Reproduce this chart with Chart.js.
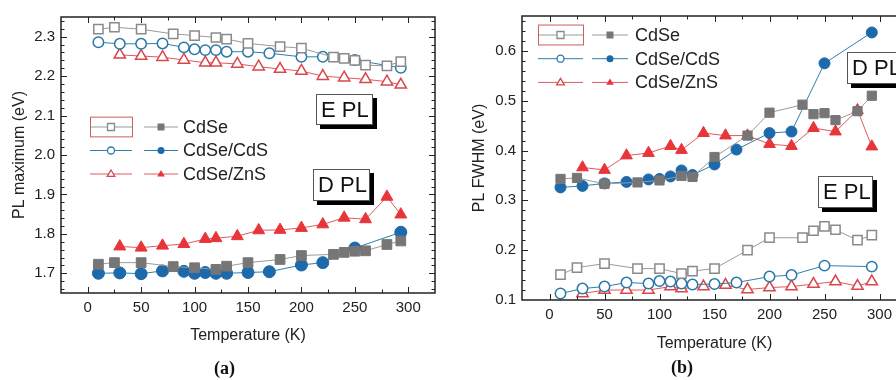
<!DOCTYPE html>
<html>
<head>
<meta charset="utf-8">
<script src="https://cdn.jsdelivr.net/npm/chart.js@4"></script>
<style>
html, body { margin: 0; padding: 0; background: #fff; overflow: hidden; }
#wrap { position: relative; width: 896px; height: 380px; overflow: hidden; }
canvas { position: absolute; top: 0; }
#chartA { left: 0; }
#chartB { left: 450px; }
.tag {
    position: absolute; background: #fff; border: 1px solid #555;
    box-shadow: 4px 4px 0 #000; box-sizing: border-box;
    font: 22px "Liberation Sans", Arial, sans-serif; color: #111;
    white-space: nowrap; padding-left: 4px;
}
.cap { position: absolute; font: bold 18px "Liberation Serif", serif; color: #111; }
</style>
</head>
<body>
<div id="wrap">
    <canvas id="chartA" width="450" height="380"></canvas>
    <canvas id="chartB" width="480" height="380"></canvas>

    <div class="tag" style="left:316px;top:94px;width:57px;height:31px;line-height:29px;">E PL</div>
    <div class="tag" style="left:313px;top:169px;width:57px;height:32px;line-height:30px;">D PL</div>
    <div class="tag" style="left:847px;top:52px;width:64px;height:32px;line-height:30px;">D PL</div>
    <div class="tag" style="left:818px;top:176px;width:55px;height:32px;line-height:30px;">E PL</div>

    <div class="cap" style="left:214px;top:358px;">(a)</div>
    <div class="cap" style="left:671px;top:357px;">(b)</div>
</div>

<script>
// ======================
// DATA
// ======================

const names = ["CdSe", "CdSe/CdS", "CdSe/ZnS"];

const tCdSe = [10, 25, 50, 80, 100, 120, 130, 150, 180, 200, 230, 240, 250, 260, 280, 293];
const tCdS  = [10, 30, 50, 70, 90, 100, 110, 120, 130, 150, 170, 200, 220, 250, 293];
const tZnS  = [30, 50, 70, 90, 110, 120, 140, 160, 180, 200, 220, 240, 260, 280, 293];

// (a) PL maximum, eV
const maxE_CdSe = [2.319, 2.324, 2.319, 2.307, 2.303, 2.298, 2.294, 2.283, 2.275, 2.271, 2.248, 2.245, 2.240, 2.228, 2.226, 2.237];
const maxE_CdS  = [2.286, 2.282, 2.282, 2.283, 2.273, 2.268, 2.266, 2.266, 2.262, 2.262, 2.258, 2.249, 2.249, 2.241, 2.221];
const maxE_ZnS  = [2.254, 2.251, 2.248, 2.241, 2.234, 2.234, 2.231, 2.224, 2.218, 2.213, 2.200, 2.196, 2.192, 2.186, 2.178];

const maxD_CdSe = [1.723, 1.727, 1.727, 1.717, 1.714, 1.710, 1.718, 1.727, 1.735, 1.745, 1.748, 1.753, 1.756, 1.757, 1.773, 1.782];
const maxD_CdS  = [1.700, 1.701, 1.699, 1.706, 1.705, 1.700, 1.702, 1.700, 1.700, 1.702, 1.704, 1.721, 1.727, 1.764, 1.804];
const maxD_ZnS  = [1.768, 1.765, 1.770, 1.774, 1.787, 1.789, 1.794, 1.809, 1.810, 1.815, 1.824, 1.841, 1.837, 1.894, 1.849];

// (b) PL FWHM, eV
const fwhmE_CdSe = [0.151, 0.165, 0.173, 0.163, 0.163, 0.153, 0.158, 0.163, 0.200, 0.225, 0.225, 0.239, 0.248, 0.241, 0.220, 0.230];
const fwhmE_CdS  = [0.113, 0.123, 0.127, 0.135, 0.133, 0.138, 0.137, 0.133, 0.131, 0.132, 0.135, 0.147, 0.150, 0.169, 0.167];
const fwhmE_ZnS  = [0.113, 0.120, 0.120, 0.120, 0.127, 0.123, 0.127, 0.130, 0.121, 0.125, 0.127, 0.132, 0.137, 0.128, 0.137];

const fwhmD_CdSe = [0.343, 0.345, 0.333, 0.336, 0.340, 0.349, 0.347, 0.387, 0.430, 0.476, 0.492, 0.473, 0.475, 0.461, 0.479, 0.510];
const fwhmD_CdS  = [0.326, 0.329, 0.334, 0.337, 0.342, 0.343, 0.348, 0.360, 0.351, 0.372, 0.402, 0.435, 0.438, 0.575, 0.637];
const fwhmD_ZnS  = [0.366, 0.361, 0.390, 0.395, 0.409, 0.401, 0.435, 0.430, 0.430, 0.413, 0.409, 0.445, 0.438, 0.481, 0.408];

// ticks
const xTicks  = [0, 50, 100, 150, 200, 250, 300];
const yTicksA = [1.7, 1.8, 1.9, 2.0, 2.1, 2.2, 2.3];
const yTicksB = [0.1, 0.2, 0.3, 0.4, 0.5, 0.6];


// ======================
// STYLE
// ======================

const FONT = "'Liberation Sans', Arial, sans-serif";
const INK = "#222";

const look = [
    { style: "rect",     line: "#9a9a9a", open: "#8a8a8a", fill: "#767676" },
    { style: "circle",   line: "#2f7fa8", open: "#2a78a8", fill: "#1c69ab" },
    { style: "triangle", line: "#dd5a5e", open: "#d8474c", fill: "#e8353a" }
];

function pts(xs, ys) {
    return xs.map((t, i) => ({ x: t, y: ys[i] }));
}

function series(i, xs, ys, filled, r) {
    const c = look[i];
    const rad = c.style === "circle" ? r : r * 1.25;
    return {
        label: names[i],
        data: pts(xs, ys),
        showLine: true,
        borderColor: c.line,
        borderWidth: 1,
        pointStyle: c.style,
        pointRadius: filled ? rad : rad * 0.95,
        pointBackgroundColor: filled ? c.fill : "#fff",
        pointBorderColor: filled ? c.fill : c.open,
        pointBorderWidth: filled ? 1 : 1.5,
        order: filled ? 1 : 2
    };
}


// ======================
// PLUGINS
// ======================

// inward ticks on all four sides + frame
const frameTicks = {
    id: "frameTicks",
    afterDraw(chart, args, o) {
        const { ctx, chartArea: a, scales: { x, y } } = chart;
        ctx.save();
        ctx.strokeStyle = INK;
        ctx.lineWidth = 1;

        function seg(x1, y1, x2, y2) {
            ctx.beginPath();
            ctx.moveTo(x1, y1);
            ctx.lineTo(x2, y2);
            ctx.stroke();
        }

        for (let v = 0; v <= 300; v += 25) {
            const len = v % 50 === 0 ? 6 : 3.5;
            const px = Math.round(x.getPixelForValue(v)) + 0.5;
            seg(px, a.bottom, px, a.bottom - len);
            seg(px, a.top, px, a.top + len);
        }

        const k0 = Math.ceil(y.min / 0.02 + 1e-6);
        const k1 = Math.floor(y.max / 0.02 - 1e-6);
        for (let k = k0; k <= k1; k++) {
            const len = k % 5 === 0 ? 6 : 3.5;
            const py = Math.round(y.getPixelForValue(k * 0.02)) + 0.5;
            seg(a.left, py, a.left + len, py);
            seg(a.right, py, a.right - len, py);
        }

        ctx.lineWidth = 1.5;
        ctx.strokeRect(a.left, a.top, a.right - a.left, a.bottom - a.top);
        ctx.restore();
    }
};

function marker(ctx, style, cx, cy, r) {
    ctx.beginPath();
    if (style === "rect") {
        ctx.rect(cx - r, cy - r, 2 * r, 2 * r);
    } else if (style === "circle") {
        ctx.arc(cx, cy, r, 0, Math.PI * 2);
    } else {
        const h = r * 1.15;
        ctx.moveTo(cx, cy - h);
        ctx.lineTo(cx + h * 0.95, cy + h * 0.6);
        ctx.lineTo(cx - h * 0.95, cy + h * 0.6);
        ctx.closePath();
    }
}

// legend with open + filled symbol per row
const pairLegend = {
    id: "pairLegend",
    afterDraw(chart, args, o) {
        const ctx = chart.ctx;
        ctx.save();

        names.forEach((name, i) => {
            const c = look[i];
            const yy = o.top + i * o.gap;

            ctx.strokeStyle = c.line;
            ctx.lineWidth = 1;
            ctx.beginPath();
            ctx.moveTo(o.a1, yy); ctx.lineTo(o.a2, yy);
            ctx.moveTo(o.b1, yy); ctx.lineTo(o.b2, yy);
            ctx.stroke();

            const ca = (o.a1 + o.a2) / 2;
            const cb = (o.b1 + o.b2) / 2;

            marker(ctx, c.style, ca, yy, o.r);
            ctx.fillStyle = "#fff";
            ctx.fill();
            ctx.strokeStyle = c.open;
            ctx.lineWidth = 1.3;
            ctx.stroke();

            marker(ctx, c.style, cb, yy, o.r);
            ctx.fillStyle = c.fill;
            ctx.fill();

            ctx.fillStyle = INK;
            ctx.font = o.size + "px " + FONT;
            ctx.textBaseline = "middle";
            ctx.fillText(name, o.tx, yy + 1);
        });

        // selection frame round the first symbol
        ctx.strokeStyle = "#c8605c";
        ctx.lineWidth = 1;
        ctx.strokeRect(o.a1 + 0.5, o.top - o.gap * 0.42, o.a2 - o.a1, o.gap * 0.84);

        ctx.restore();
    }
};

Chart.register(frameTicks, pairLegend);


// ======================
// PANEL BUILDER
// ======================

function panel(id, datasets, yMin, yMax, yTicks, yTitle, box) {

    return new Chart(
        document.getElementById(id),
        {
            type: "scatter",

            data: { datasets: datasets },

            options: {
                responsive: false,
                animation: false,
                events: [],

                layout: { padding: box.pad },

                plugins: {
                    legend: { display: false },
                    tooltip: { enabled: false },
                    pairLegend: box.legend
                },

                scales: {
                    x: {
                        type: "linear",
                        min: -25,
                        max: 325,
                        afterBuildTicks: s => { s.ticks = xTicks.map(v => ({ value: v })); },
                        afterFit: s => { s.height = box.xh; },
                        grid: { display: false, drawTicks: false },
                        border: { display: false },
                        ticks: { padding: box.xpad, color: INK, font: { family: FONT, size: 15 } },
                        title: {
                            display: true, text: "Temperature (K)", color: INK,
                            font: { family: FONT, size: 16 }, padding: { top: 4, bottom: 4 }
                        }
                    },
                    y: {
                        type: "linear",
                        min: yMin,
                        max: yMax,
                        afterBuildTicks: s => { s.ticks = yTicks.map(v => ({ value: v })); },
                        afterFit: s => { s.width = box.yw; },
                        grid: { display: false, drawTicks: false },
                        border: { display: false },
                        ticks: {
                            padding: 6, color: INK, font: { family: FONT, size: 15 },
                            callback: v => Number(v).toFixed(1)
                        },
                        title: {
                            display: true, text: yTitle, color: INK,
                            font: { family: FONT, size: 16 }, padding: { top: box.ytp, bottom: 0 }
                        }
                    }
                }
            }
        }
    );
}


// ======================
// START
// ======================

panel("chartA",
    [
        series(0, tCdSe, maxE_CdSe, false, 5.5),
        series(1, tCdS, maxE_CdS, false, 5.5),
        series(2, tZnS, maxE_ZnS, false, 5.5),
        series(0, tCdSe, maxD_CdSe, true, 5.5),
        series(1, tCdS, maxD_CdS, true, 6),
        series(2, tZnS, maxD_ZnS, true, 5.5)
    ],
    1.65, 2.35, yTicksA, "PL maximum (eV)",
    {
        pad: { top: 17, right: 15, bottom: 31, left: 0 },
        xh: 56, yw: 61, xpad: 6, ytp: 10,
        legend: { top: 127, gap: 23.5, a1: 90, a2: 132, b1: 144, b2: 178, tx: 183, r: 3.5, size: 18 }
    }
);

panel("chartB",
    [
        series(0, tCdSe, fwhmE_CdSe, false, 5.5),
        series(1, tCdS, fwhmE_CdS, false, 5.5),
        series(2, tZnS, fwhmE_ZnS, false, 5.5),
        series(0, tCdSe, fwhmD_CdSe, true, 5.2),
        series(1, tCdS, fwhmD_CdS, true, 5.5),
        series(2, tZnS, fwhmD_ZnS, true, 5.4)
    ],
    0.1, 0.67, yTicksB, "PL FWHM (eV)",
    {
        pad: { top: 16, right: 23, bottom: 23, left: 0 },
        xh: 57, yw: 72, xpad: 6, ytp: 20,
        legend: { top: 35, gap: 23.7, a1: 88, a2: 133, b1: 142, b2: 178, tx: 185, r: 3.5, size: 18 }
    }
);
</script>
</body>
</html>
